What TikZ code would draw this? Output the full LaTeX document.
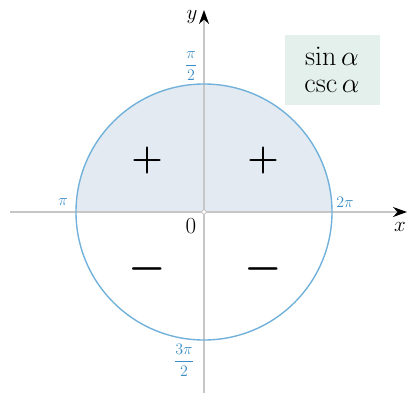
\RequirePackage{fix-cm}
\documentclass[tikz,border=0pt]{standalone}
\usetikzlibrary{arrows.meta}
\usepackage{amsmath}
\definecolor{axisgray}{HTML}{C6C6C6}
\definecolor{circblue}{HTML}{72B2DA}
\definecolor{labblue}{HTML}{3A8CC4}
\definecolor{upfill}{HTML}{E3EAF2}
\definecolor{boxfill}{HTML}{E4F0EC}
\begin{document}
\begin{tikzpicture}[x=1pt,y=-1pt,line width=1.8pt,>=Stealth,
  axis/.style={draw=axisgray,line width=1.8pt},
  anglelabel/.style={text=labblue,font=\fontsize{16}{17}\selectfont,inner sep=0pt},
  signlabel/.style={font=\fontsize{36}{36}\selectfont\boldmath,inner sep=0pt},
  axislabel/.style={font=\fontsize{21}{21}\selectfont,inner sep=0pt},
  trigbox/.style={fill=boxfill,align=center,minimum width=95pt,minimum height=70pt,
    font=\fontsize{28}{27}\selectfont}]
\useasboundingbox (0,0) rectangle (409,393);
% upper half shaded
\coordinate (origin) at (204,212);
\fill[upfill] (origin) ++(-128,0) arc[start angle=180,end angle=360,radius=128] -- cycle;
% axes
\coordinate (xstart) at (10,212);
\coordinate (xend) at (407,212);
\coordinate (ystart) at (204,393);
\coordinate (yend) at (204,10);
\draw[axis,-{Stealth[length=14pt,width=10pt,black]}] (xstart) -- (xend);
\draw[axis,-{Stealth[length=14pt,width=10pt,black]}] (ystart) -- (yend);
\node[axislabel] (xlab) at (400,227) {$x$};
\node[axislabel] (ylab) at (192,17) {$y$};
% unit circle
\draw[circblue,line width=1.4pt] (origin) circle[radius=128];
\fill[white,draw=axisgray,line width=0.8pt] (origin) circle[radius=2.2];
\node[axislabel,font=\fontsize{23}{23}\selectfont] (zero) at (191,226) {$0$};
% angle labels
\node[anglelabel] (halfpi) at (191,66) {$\displaystyle\frac{\pi}{2}$};
\node[anglelabel] (pi) at (63,202) {$\pi$};
\node[anglelabel] (twopi) at (345,202) {$2\pi$};
\node[anglelabel] (threehalfpi) at (184,360) {$\displaystyle\frac{3\pi}{2}$};
% signs
\node[signlabel] (sgnone) at (147,160) {$+$};
\node[signlabel] (sgntwo) at (263,160) {$+$};
\node[signlabel,font=\fontsize{42}{42}\selectfont\boldmath] (sgnthree) at (147,269) {$-$};
\node[signlabel,font=\fontsize{42}{42}\selectfont\boldmath] (sgnfour) at (263,269) {$-$};
% box
\node[trigbox] (signbox) at (332,70) {$\sin\alpha$\\$\csc\alpha$};
\end{tikzpicture}
\end{document}
